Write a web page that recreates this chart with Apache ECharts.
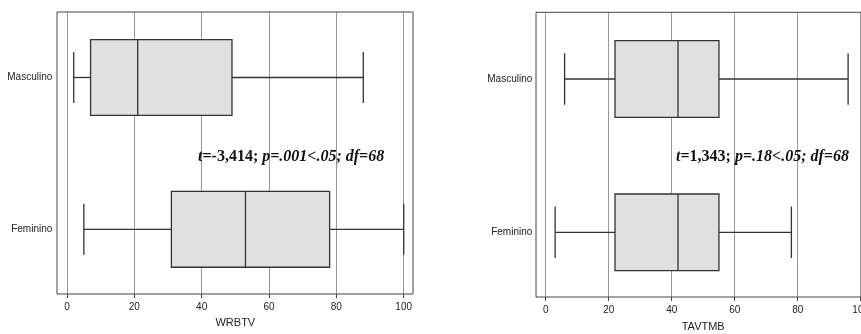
<!DOCTYPE html>
<html>
<head>
<meta charset="utf-8">
<script src="https://cdn.jsdelivr.net/npm/echarts@6/dist/echarts.min.js"></script>
<style>
html,body{margin:0;padding:0;background:#fff;}
#chart{width:861px;height:334px;}
</style>
</head>
<body>
<div id="chart"></div>
<script>
const categories = ['Masculino', 'Feminino'];
// [min, Q1, median, Q3, max]
const wrbtvMasculino = [2, 7, 21, 49, 88];
const wrbtvFeminino = [5, 31, 53, 78, 100];
const tavtmbMasculino = [6, 22, 42, 55, 96];
const tavtmbFeminino = [3, 22, 42, 55, 78];
const axisNames = ['WRBTV', 'TAVTMB'];
const xMin = 0, xMax = 100, xInterval = 20;
const statsLeft = { t: '=-3,414; ', rest: 'p=.001<.05; df=68' };
const statsRight = { t: '=1,343; ', rest: 'p=.18<.05; df=68' };

const labelFont = "'Liberation Sans', Arial, sans-serif";
const lineColor = '#333';

function renderBox(params, api) {
  const cat = api.value(0);
  const vals = [api.value(1), api.value(2), api.value(3), api.value(4), api.value(5)];
  const band = api.size([0, 1])[1];
  const half = band * 0.25;
  const cap = band * 0.168;
  const p = vals.map(v => api.coord([v, cat]));
  const y = p[0][1];
  const st = { stroke: lineColor, lineWidth: 1.3 };
  return {
    type: 'group',
    children: [
      { type: 'line', shape: { x1: p[0][0], y1: y, x2: p[1][0], y2: y }, style: st },
      { type: 'line', shape: { x1: p[3][0], y1: y, x2: p[4][0], y2: y }, style: st },
      { type: 'line', shape: { x1: p[0][0], y1: y - cap, x2: p[0][0], y2: y + cap }, style: st },
      { type: 'line', shape: { x1: p[4][0], y1: y - cap, x2: p[4][0], y2: y + cap }, style: st },
      { type: 'rect', shape: { x: p[1][0], y: y - half, width: p[3][0] - p[1][0], height: half * 2 },
        style: { fill: '#e0e0e0', stroke: lineColor, lineWidth: 1.3 } },
      { type: 'line', shape: { x1: p[2][0], y1: y - half, x2: p[2][0], y2: y + half }, style: st }
    ]
  };
}

const panels = [
  { frame: { left: 57, top: 12, width: 356, height: 282 },
    axis: { left: 67, top: 12, width: 336.7, height: 282 },
    box: { left: 67, top: 1.6, width: 336.7, height: 303.6 },
    data: [wrbtvMasculino, wrbtvFeminino], name: axisNames[0], catMargin: 14.7, nameGap: 23 },
  { frame: { left: 536, top: 12.3, width: 340, height: 284.7 },
    axis: { left: 545.7, top: 12.3, width: 315, height: 284.7 },
    box: { left: 545.7, top: 2.35, width: 315, height: 306.6 },
    data: [tavtmbMasculino, tavtmbFeminino], name: axisNames[1], catMargin: 13.4, nameGap: 24 }
];

const grid = [], xAxis = [], yAxis = [], series = [];
panels.forEach((pn, k) => {
  const g0 = grid.length;
  grid.push(Object.assign({ show: true, borderColor: '#444', borderWidth: 1, backgroundColor: 'transparent', z: 5, outerBoundsMode: 'none', containLabel: false }, pn.frame));
  grid.push(Object.assign({ show: false, outerBoundsMode: 'none', containLabel: false }, pn.axis));
  grid.push(Object.assign({ show: false, outerBoundsMode: 'none', containLabel: false }, pn.box));
  xAxis.push({ gridIndex: g0, type: 'value', show: false, min: xMin, max: xMax });
  yAxis.push({ gridIndex: g0, type: 'value', show: false });
  xAxis.push({
    gridIndex: g0 + 1, type: 'value', min: xMin, max: xMax, interval: xInterval,
    name: pn.name, nameLocation: 'middle', nameGap: pn.nameGap,
    nameTextStyle: { fontFamily: labelFont, fontSize: 11, color: '#222' },
    axisLine: { show: false },
    axisTick: { show: true, length: 4, lineStyle: { color: '#444' } },
    axisLabel: { margin: 8, fontFamily: labelFont, fontSize: 10, color: '#222', hideOverlap: false },
    splitLine: { show: true, lineStyle: { color: '#999', width: 1 } }
  });
  yAxis.push({ gridIndex: g0 + 1, type: 'value', show: false });
  xAxis.push({ gridIndex: g0 + 2, type: 'value', show: false, min: xMin, max: xMax });
  yAxis.push({
    gridIndex: g0 + 2, type: 'category', data: categories, inverse: true,
    axisLine: { show: false }, axisTick: { show: false }, splitLine: { show: false },
    axisLabel: { margin: pn.catMargin, fontFamily: labelFont, fontSize: 10, color: '#222' }
  });
  series.push({
    type: 'custom', xAxisIndex: g0 + 2, yAxisIndex: g0 + 2,
    renderItem: renderBox,
    encode: { y: 0, x: [1, 2, 3, 4, 5] },
    data: categories.map((c, i) => [i].concat(pn.data[i])),
    z: 3, silent: true
  });
});

const serif = "'Liberation Serif', 'Times New Roman', serif";
function statText(x, s) {
  return {
    type: 'text', left: x, top: 149, z: 10,
    style: {
      text: '{i|t}{b|' + s.t + '}{i|' + s.rest + '}',
      rich: {
        i: { fontFamily: serif, fontSize: 16, fontWeight: 'bold', fontStyle: 'italic', fill: '#111' },
        b: { fontFamily: serif, fontSize: 16, fontWeight: 'bold', fill: '#111' }
      }
    }
  };
}

const chart = echarts.init(document.getElementById('chart'));
chart.setOption({
  animation: false,
  backgroundColor: '#fff',
  grid, xAxis, yAxis, series,
  graphic: [statText(198, statsLeft), statText(676, statsRight)]
});
</script>
</body>
</html>
